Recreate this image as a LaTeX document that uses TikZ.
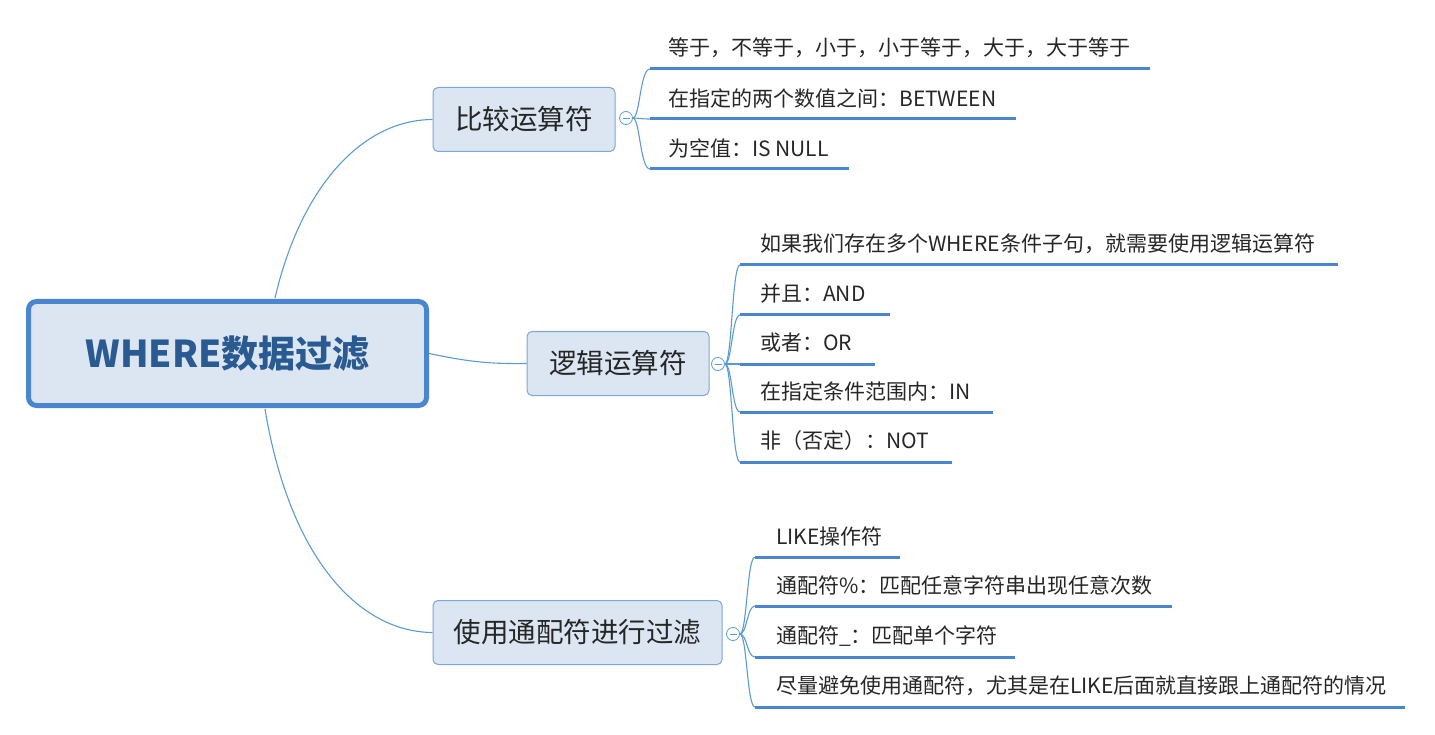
\documentclass[tikz,border=0pt]{standalone}
\usepackage{fontspec}
\setmainfont{Noto Sans CJK SC}
\definecolor{lineblue}{HTML}{5B9BD5}
\definecolor{ulblue}{HTML}{4A86D0}
\definecolor{boxfill}{HTML}{DCE6F2}
\definecolor{boxdraw}{HTML}{7EA6D8}
\definecolor{roottxt}{HTML}{2A5A92}
\begin{document}
\begin{tikzpicture}[x=1pt,y=-1pt,
  root/.style={draw=ulblue,line width=5pt,fill=boxfill,rounded corners=8pt,minimum width=398pt,minimum height=104pt,font=\fontsize{37}{42}\selectfont\bfseries,text=roottxt},
  branch/.style={draw=boxdraw,line width=1pt,fill=boxfill,rounded corners=5pt,minimum height=64pt,font=\fontsize{27.5}{32}\selectfont,text=black!85},
  leaf/.style={anchor=west,inner sep=0pt,font=\fontsize{21}{25}\selectfont,text=black!85},
  conn/.style={draw=lineblue,line width=1.1pt},
  ul/.style={draw=ulblue,line width=3pt},
  knob/.style={circle,draw=lineblue,fill=white,line width=0.8pt,minimum size=13pt,inner sep=0pt}]
\useasboundingbox (0,0) rectangle (1435,735);
\node[root] (r) at (227.5,353.5) {WHERE数据过滤};
\node[branch,minimum width=182pt] (b1) at (524,119.5) {比较运算符};
\node[branch,minimum width=182pt] (b2) at (618,363.5) {逻辑运算符};
\node[branch,minimum width=289pt] (b3) at (577.5,632.5) {使用通配符进行过滤};
\draw[conn] (275,298) .. controls (300,190) and (360,120) .. (b1.west);
\draw[conn] (r.east) .. controls (470,362) and (490,364) .. (b2.west);
\draw[conn] (265,409) .. controls (290,560) and (360,632) .. (b3.west);
% knobs
\node[knob] (k1) at (626,118) {};
\node[knob] (k2) at (718,364) {};
\node[knob] (k3) at (733,634) {};
\foreach \k in {k1,k2,k3}{\draw[lineblue,line width=0.8pt] ([xshift=-3.5pt]\k.center) -- ([xshift=3.5pt]\k.center);}
% branch 1 leaves
\foreach \n/\y/\xe/\t in {a1/69/1150/{等于，不等于，小于，小于等于，大于，大于等于},a2/119/1016/{在指定的两个数值之间：BETWEEN},a3/169/849/{为空值：IS NULL}}{
  \coordinate (\n s) at (650,\y); \coordinate (\n e) at (\xe,\y);
  \node[leaf] (\n) at (668,\y-21) {\t};
  \draw[ul] (\n s) -- (\n e);
  \draw[conn] (k1.east) .. controls (640,118) and (640,\y) .. (\n s);
}
% branch 2 leaves
\foreach \n/\y/\xe/\t in {c1/265/1338/{如果我们存在多个WHERE条件子句，就需要使用逻辑运算符},c2/315/890/{并且：AND},c3/364/875/{或者：OR},c4/412/993/{在指定条件范围内：IN},c5/462/952/{非（否定）：NOT}}{
  \coordinate (\n s) at (740,\y); \coordinate (\n e) at (\xe,\y);
  \node[leaf] (\n) at (760,\y-21) {\t};
  \draw[ul] (\n s) -- (\n e);
  \draw[conn] (k2.east) .. controls (732,364) and (732,\y) .. (\n s);
}
% branch 3 leaves
\foreach \n/\y/\xe/\t in {d1/557/900/{LIKE操作符},d2/606/1172/{通配符\%：匹配任意字符串出现任意次数},d3/657/1015/{通配符\_：匹配单个字符},d4/707/1405/{尽量避免使用通配符，尤其是在LIKE后面就直接跟上通配符的情况}}{
  \coordinate (\n s) at (755,\y); \coordinate (\n e) at (\xe,\y);
  \node[leaf] (\n) at (776,\y-21) {\t};
  \draw[ul] (\n s) -- (\n e);
  \draw[conn] (k3.east) .. controls (747,634) and (747,\y) .. (\n s);
}
\end{tikzpicture}
\end{document}
